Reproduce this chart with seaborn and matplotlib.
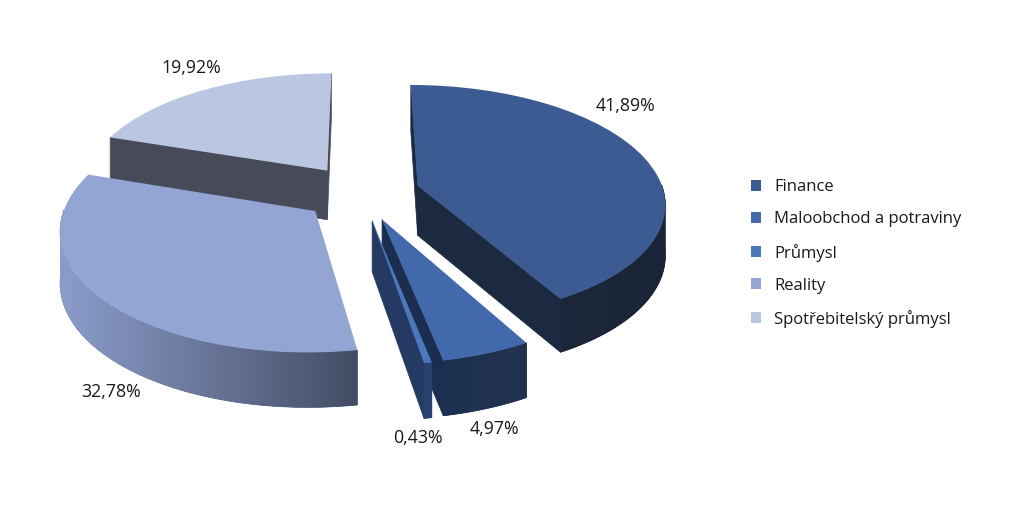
import numpy as np
import matplotlib
matplotlib.use("Agg")
import matplotlib.pyplot as plt
from matplotlib.transforms import Transform
from matplotlib.colors import to_rgb
import seaborn as sns

categories = ["Finance", "Maloobchod a potraviny", "Průmysl", "Reality", "Spotřebitelský průmysl"]
shares = [41.89, 4.97, 0.43, 32.78, 19.92]
value_labels = ["41,89%", "4,97%", "0,43%", "32,78%", "19,92%"]

top_colors = ["#3c5b92", "#4169ab", "#4b77bd", "#93a5d2", "#bac6e2"]
wall_from = ["#1c2a3f", "#1e3050", "#2a4270", "#8a9cca", "#474b59"]
wall_to = ["#1a2436", "#20324f", "#2a4270", "#434c63", "#474b59"]
cut_colors = ["#1b2a40", "#1c2e50", "#243a63", "#434c63", "#474b59"]
draw_rank = [3, 4, 5, 2, 1]
label_px = [(625, 106), (494, 429), (418, 438), (111, 392), (191, 68)]

W, H = 1019, 509
CX, CY, A, B, K = 361, 192.5, 250, 118, 0.14
RADIUS = 0.985
DEPTH = 50


class Perspective(Transform):
    input_dims = output_dims = 2

    def transform_non_affine(self, values):
        values = np.asarray(values, float)
        den = 1 + K * values[:, 1]
        return np.column_stack([values[:, 0] / den, values[:, 1] / den])


sns.set_theme(style="white")
plt.rcParams["font.family"] = ["Open Sans", "DejaVu Sans"]
fig = plt.figure(figsize=(W / 100, H / 100), dpi=100)
ax = fig.add_axes([0, 0, 1, 1])

wedges, _ = ax.pie(shares, explode=[0.236] * 5, startangle=90, counterclock=False,
                   colors=sns.color_palette(top_colors), radius=RADIUS)
ax.set_aspect("auto")
ax.set_xlim((0 - CX) / A, (W - CX) / A)
ax.set_ylim((CY - H) / B, CY / B)
ax.axis("off")
proj = Perspective()


def top(uv):
    return proj.transform_non_affine(np.atleast_2d(uv))


def bottom(uv):
    uv = np.atleast_2d(uv)
    p = top(uv)
    shift = DEPTH / (1 + 0.08 * uv[:, 1]) / B
    return np.column_stack([p[:, 0], p[:, 1] - shift])


def band(points, color, z, lw=0.0):
    pa, pb = top(points), bottom(points)
    ax.fill(np.r_[pa[:, 0], pb[::-1, 0]], np.r_[pa[:, 1], pb[::-1, 1]],
            facecolor=color, edgecolor=color if lw else "none", lw=lw, zorder=z)


def cut_is_visible(c, end, inner):
    # a cut face shows only if the ground below its edge is outside the wedge
    p0, p1, q = top(c)[0], top(end)[0], top(inner)[0]
    d = p1 - p0
    side_inner = d[0] * (q - p0)[1] - d[1] * (q - p0)[0]
    side_down = d[0] * -1.0 - d[1] * 0.0
    return side_inner * side_down < 0


for i, w in enumerate(wedges):
    z0 = 10 * draw_rank[i]
    c = np.array(w.center)
    th = np.radians(np.linspace(w.theta1, w.theta2, 240))
    arc = c + w.r * np.column_stack([np.cos(th), np.sin(th)])
    inner = c + 0.5 * (arc.mean(axis=0) - c)
    ends = sorted([arc[0], arc[-1]], key=lambda p: -p[1])
    for k, end in enumerate(ends):
        if cut_is_visible(c, end, inner):
            band(np.array([c, end]), cut_colors[i], z0 + k, lw=0.5)

    c0, c1 = np.array(to_rgb(wall_from[i])), np.array(to_rgb(wall_to[i]))
    xs = top(arc)[:, 0]
    span = max(xs.max() - xs.min(), 1e-6)
    front = np.sin(th) < 0.01
    if front.sum() > 1:
        band(arc[front], tuple((c0 + c1) / 2), z0 + 2, lw=0.5)
        idx = np.flatnonzero(front)
        px_per_sample = span * A / len(th)
        step = max(1, int(round(2.5 / px_per_sample)))
        for j in idx[:-1:step]:
            t = (xs[j] - xs.min()) / span
            col = tuple(c0 + (c1 - c0) * t)
            band(arc[j:min(j + 2 * step + 1, idx[-1] + 1)], col, z0 + 2)
    w.set_transform(proj + ax.transData)
    w.set_zorder(z0 + 3)
    w.set_edgecolor("none")
    w.set_linewidth(0)
    w.set_clip_on(False)

for text, (x, y) in zip(value_labels, label_px):
    ax.annotate(text, (x / W, 1 - y / H), xycoords="axes fraction", ha="center", va="center",
                fontsize=12.8, color="#1a1a1a", zorder=100)

ax.legend(wedges, categories, loc="center left", bbox_to_anchor=(751 / W, 1 - 253.5 / H),
          bbox_transform=ax.transAxes, frameon=False, fontsize=12, labelspacing=0.965,
          handlelength=0.6, handleheight=0.6, handletextpad=0.78, borderpad=0, borderaxespad=0,
          labelcolor="#1a1a1a")

fig.savefig("out.png", dpi=100)
